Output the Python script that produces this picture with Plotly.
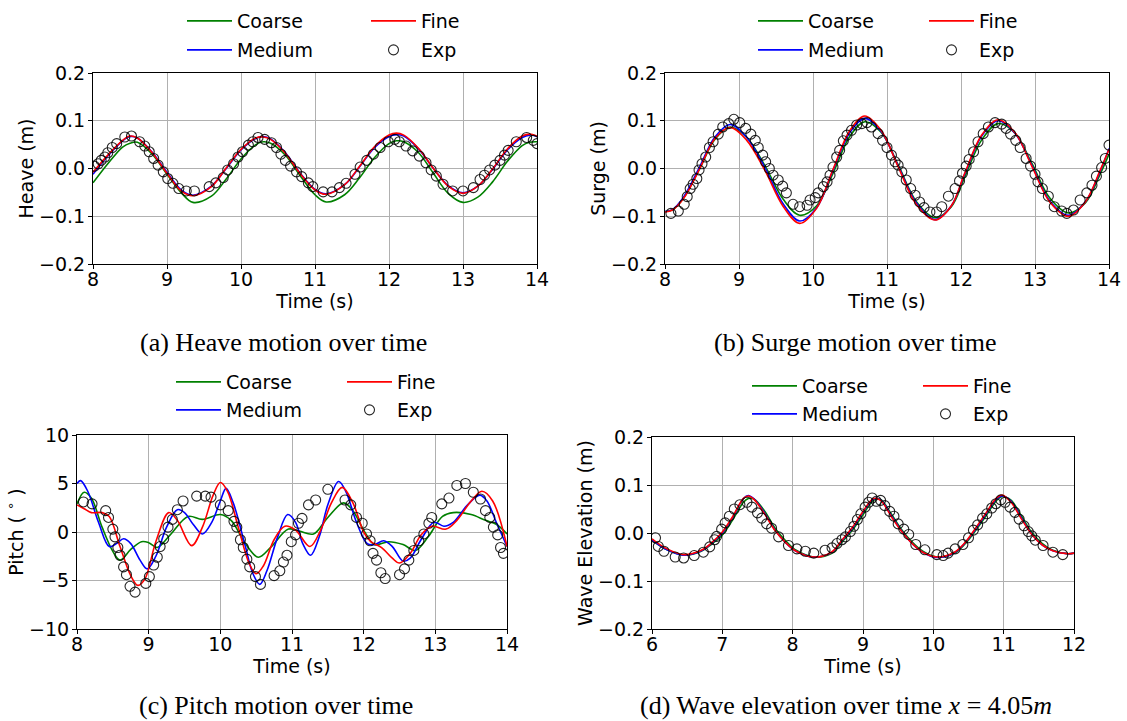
import plotly.graph_objects as go

# ---------------- (a) Heave ----------------
HEAVE_T = [8.0, 8.2, 8.4, 8.5, 8.6, 8.8, 9.0, 9.2, 9.35, 9.6, 9.8, 10.0, 10.2, 10.3, 10.4, 10.6, 10.8, 11.0,
           11.15, 11.4, 11.6, 11.8, 12.0, 12.1, 12.2, 12.4, 12.6, 12.8, 13.0, 13.2, 13.4, 13.6, 13.8, 13.9, 14.0]
HEAVE_COARSE = [-0.030, 0.010, 0.045, 0.053, 0.055, 0.030, -0.012, -0.052, -0.071, -0.058, -0.022, 0.020, 0.050,
                0.056, 0.053, 0.028, -0.015, -0.055, -0.070, -0.055, -0.020, 0.022, 0.052, 0.058, 0.056, 0.033,
                -0.010, -0.052, -0.071, -0.060, -0.028, 0.015, 0.048, 0.055, 0.056]
HEAVE_MEDIUM = [-0.012, 0.026, 0.058, 0.067, 0.064, 0.034, -0.008, -0.046, -0.056, -0.037, 0.000, 0.039, 0.063,
                0.067, 0.062, 0.033, -0.010, -0.044, -0.053, -0.034, 0.003, 0.043, 0.067, 0.071, 0.068, 0.041,
                0.000, -0.036, -0.051, -0.037, -0.002, 0.039, 0.065, 0.070, 0.067]
HEAVE_FINE = [-0.008, 0.028, 0.059, 0.068, 0.064, 0.033, -0.010, -0.048, -0.057, -0.038, 0.001, 0.040, 0.064,
              0.066, 0.061, 0.032, -0.011, -0.045, -0.054, -0.034, 0.004, 0.045, 0.070, 0.074, 0.070, 0.042,
              0.000, -0.037, -0.052, -0.037, -0.001, 0.041, 0.068, 0.072, 0.068]
HEAVE_EXP_T = [8.02, 8.07, 8.11, 8.16, 8.2, 8.26, 8.32, 8.43, 8.52, 8.63, 8.70, 8.76, 8.82, 8.88, 8.95, 9.01, 9.08,
               9.16, 9.26, 9.37, 9.57, 9.66, 9.76, 9.82, 9.9, 9.96, 10.02, 10.1, 10.16, 10.23, 10.32, 10.41, 10.48,
               10.54, 10.6, 10.67, 10.75, 10.82, 10.91, 10.97, 11.11, 11.23, 11.33, 11.42, 11.54, 11.61, 11.70,
               11.79, 11.88, 11.99, 12.08, 12.14, 12.23, 12.32, 12.41, 12.5, 12.57, 12.64, 12.73, 12.86, 13.0,
               13.14, 13.23, 13.29, 13.36, 13.43, 13.5, 13.56, 13.61, 13.72, 13.86, 13.95, 14.0]
HEAVE_EXP = [0.005, 0.010, 0.017, 0.024, 0.033, 0.044, 0.052, 0.066, 0.068, 0.056, 0.047, 0.035, 0.021, 0.007,
             -0.007, -0.021, -0.031, -0.042, -0.047, -0.047, -0.038, -0.030, -0.019, -0.003, 0.010, 0.024, 0.035,
             0.049, 0.056, 0.065, 0.061, 0.054, 0.044, 0.030, 0.017, 0.005, -0.007, -0.017, -0.030, -0.038,
             -0.049, -0.049, -0.040, -0.031, -0.012, 0.003, 0.017, 0.030, 0.044, 0.056, 0.061, 0.056, 0.047,
             0.037, 0.026, 0.012, -0.003, -0.016, -0.033, -0.047, -0.047, -0.040, -0.023, -0.014, -0.003, 0.007,
             0.017, 0.028, 0.038, 0.056, 0.065, 0.059, 0.052]

# ---------------- (b) Surge ----------------
SURGE_T = [8.0, 8.1, 8.25, 8.47, 8.67, 8.88, 9.1, 9.35, 9.6, 9.82, 10.05, 10.27, 10.5, 10.7, 10.92, 11.15, 11.4,
           11.65, 11.87, 12.05, 12.28, 12.5, 12.73, 12.96, 13.2, 13.45, 13.68, 13.88, 14.0]
SURGE_COARSE = [-0.090, -0.087, -0.062, 0.000, 0.060, 0.087, 0.066, 0.006, -0.065, -0.098, -0.078, -0.010, 0.068,
                0.098, 0.076, 0.008, -0.070, -0.103, -0.080, -0.018, 0.060, 0.094, 0.074, 0.010, -0.062, -0.093,
                -0.072, -0.012, 0.030]
SURGE_MEDIUM = [-0.090, -0.086, -0.060, 0.004, 0.065, 0.092, 0.066, 0.002, -0.075, -0.110, -0.082, -0.004, 0.076,
                0.105, 0.078, 0.006, -0.073, -0.107, -0.078, -0.012, 0.068, 0.100, 0.074, 0.006, -0.068, -0.098,
                -0.070, -0.006, 0.042]
SURGE_FINE = [-0.091, -0.087, -0.063, 0.000, 0.062, 0.086, 0.060, -0.004, -0.080, -0.115, -0.083, -0.002, 0.080,
              0.110, 0.080, 0.004, -0.076, -0.108, -0.078, -0.010, 0.070, 0.102, 0.075, 0.004, -0.070, -0.100,
              -0.070, -0.004, 0.040]
SURGE_EXP_T = [8.08, 8.18, 8.26, 8.30, 8.34, 8.38, 8.43, 8.46, 8.5, 8.55, 8.6, 8.65, 8.72, 8.78, 8.86, 8.93, 9.01,
               9.09, 9.16, 9.22, 9.26, 9.32, 9.36, 9.41, 9.46, 9.53, 9.59, 9.64, 9.73, 9.82, 9.92, 9.96, 10.03,
               10.07, 10.14, 10.19, 10.23, 10.27, 10.32, 10.36, 10.41, 10.46, 10.52, 10.59, 10.66, 10.73, 10.79,
               10.88, 10.94, 11.0, 11.06, 11.11, 11.15, 11.2, 11.26, 11.32, 11.38, 11.44, 11.5, 11.58, 11.67,
               11.74, 11.83, 11.92, 11.98, 12.02, 12.07, 12.11, 12.17, 12.23, 12.3, 12.37, 12.46, 12.55, 12.61,
               12.67, 12.74, 12.8, 12.88, 12.94, 13.0, 13.04, 13.1, 13.18, 13.26, 13.36, 13.43, 13.52, 13.61,
               13.7, 13.77, 13.83, 13.9, 13.95, 14.0]
SURGE_EXP = [-0.094, -0.089, -0.075, -0.059, -0.042, -0.033, -0.021, -0.003, 0.010, 0.024, 0.044, 0.056, 0.072,
             0.087, 0.094, 0.103, 0.096, 0.084, 0.072, 0.059, 0.044, 0.028, 0.014, 0.000, -0.014, -0.024, -0.037,
             -0.051, -0.075, -0.080, -0.077, -0.066, -0.061, -0.051, -0.038, -0.028, -0.014, 0.003, 0.024, 0.038,
             0.058, 0.070, 0.080, 0.091, 0.094, 0.096, 0.087, 0.073, 0.059, 0.044, 0.028, 0.014, 0.007, -0.007,
             -0.024, -0.042, -0.056, -0.070, -0.082, -0.091, -0.091, -0.080, -0.058, -0.042, -0.026, -0.010,
             0.005, 0.019, 0.035, 0.056, 0.073, 0.087, 0.096, 0.093, 0.084, 0.072, 0.059, 0.044, 0.021, 0.005,
             -0.012, -0.028, -0.042, -0.058, -0.080, -0.089, -0.094, -0.087, -0.066, -0.051, -0.035, -0.016,
             0.002, 0.021, 0.049]

# ---------------- (c) Pitch ----------------
PITCH_COARSE_T = [8.0, 8.1, 8.2, 8.35, 8.5, 8.6, 8.75, 8.9, 9.0, 9.12, 9.3, 9.55, 9.75, 10.0, 10.15, 10.35, 10.53,
                  10.7, 10.95, 11.1, 11.3, 11.5, 11.72, 11.85, 12.0, 12.15, 12.35, 12.55, 12.72, 12.9, 13.1, 13.25,
                  13.5, 13.7, 13.85, 14.0]
PITCH_COARSE = [2.9, 4.1, 3.5, 0.5, -2.0, -2.9, -1.8, -1.0, -1.1, -1.6, -0.3, 1.6, 1.3, 1.8, 1.2, -1.2, -2.6,
                -1.6, 0.3, 0.1, -0.2, 1.5, 3.0, 2.2, 0.2, -1.3, -1.0, -1.3, -1.9, -0.5, 1.6, 2.0, 1.8, 1.2, 0.8,
                -0.2]
PITCH_MEDIUM_T = [8.0, 8.05, 8.15, 8.3, 8.45, 8.55, 8.65, 8.75, 8.88, 8.98, 9.1, 9.25, 9.4, 9.5, 9.62, 9.75, 9.88,
                  10.0, 10.08, 10.18, 10.35, 10.45, 10.55, 10.65, 10.8, 10.94, 11.05, 11.15, 11.26, 11.38, 11.5,
                  11.65, 11.75, 11.9, 12.05, 12.15, 12.28, 12.4, 12.55, 12.65, 12.8, 12.98, 13.12, 13.25, 13.45,
                  13.62, 13.72, 13.85, 14.0]
PITCH_MEDIUM = [5.0, 5.3, 4.2, 1.0, -1.5, -1.2, -0.7, -1.2, -2.9, -3.8, -2.5, 0.5, 2.3, 2.0, 0.8, -0.2, 1.0, 3.2,
                4.5, 3.0, -1.5, -4.2, -5.4, -4.0, -0.5, 1.8, 1.0, -1.2, -2.4, -0.5, 2.8, 5.2, 4.2, 1.0, -1.2, -1.3,
                -0.9, -1.5, -3.0, -2.7, -0.8, 1.0, 0.6, 1.0, 2.8, 3.8, 3.2, 1.0, -1.5]
PITCH_FINE_T = [8.0, 8.1, 8.2, 8.35, 8.45, 8.6, 8.75, 8.85, 8.95, 9.1, 9.28, 9.4, 9.6, 9.75, 9.9, 10.0, 10.1, 10.25,
                10.4, 10.5, 10.6, 10.75, 10.9, 11.05, 11.25, 11.4, 11.55, 11.7, 11.85, 12.0, 12.1, 12.25, 12.4,
                12.5, 12.65, 12.8, 12.95, 13.15, 13.3, 13.5, 13.65, 13.8, 14.0]
PITCH_FINE = [2.8, 2.4, 2.0, 2.0, 1.6, -1.5, -4.5, -5.5, -4.8, -1.0, 2.0, 1.2, -1.4, 0.5, 3.8, 5.1, 4.2, 0.5, -3.2,
              -4.3, -3.5, -0.8, 0.6, 0.2, -1.5, 0.2, 3.0, 4.6, 3.0, 0.0, -1.0, -1.6, -2.7, -3.2, -2.2, -0.3, 0.6,
              0.3, 1.2, 3.2, 4.2, 3.2, -1.5]
PITCH_EXP_T = [8.09, 8.21, 8.40, 8.44, 8.5, 8.53, 8.57, 8.6, 8.65, 8.69, 8.74, 8.81, 8.96, 9.01, 9.07, 9.12, 9.16,
               9.21, 9.27, 9.33, 9.4, 9.48, 9.67, 9.79, 9.87, 10.0, 10.11, 10.19, 10.23, 10.28, 10.32, 10.37, 10.41,
               10.49, 10.56, 10.75, 10.83, 10.88, 10.93, 10.99, 11.05, 11.09, 11.14, 11.23, 11.33, 11.5, 11.74,
               11.82, 11.9, 11.98, 12.04, 12.09, 12.13, 12.18, 12.24, 12.3, 12.5, 12.57, 12.63, 12.7, 12.77, 12.84,
               12.91, 12.95, 13.09, 13.19, 13.3, 13.42, 13.53, 13.63, 13.7, 13.76, 13.81, 13.87, 13.91, 13.95]
PITCH_EXP = [3.1, 2.9, 2.2, 1.5, 0.3, -0.5, -1.6, -2.4, -3.6, -4.4, -5.6, -6.2, -5.3, -4.6, -3.4, -2.6, -1.5, -0.7,
             0.5, 1.3, 2.3, 3.2, 3.7, 3.7, 3.6, 2.8, 2.2, 1.1, 0.5, -0.8, -1.6, -2.8, -3.6, -4.6, -5.4, -4.5, -4.0,
             -3.1, -2.4, -1.0, -0.3, 0.9, 1.4, 2.8, 3.3, 4.4, 3.3, 2.8, 1.5, 0.9, -0.2, -0.9, -2.2, -2.9, -4.2,
             -4.8, -4.4, -3.8, -2.9, -1.9, -0.9, -0.2, 0.9, 1.5, 2.9, 3.5, 4.8, 5.0, 4.1, 3.4, 2.2, 1.5, 0.5, -0.3,
             -1.6, -2.2]

# ---------------- (d) Wave elevation ----------------
WAVE_T = [6.0, 6.2, 6.45, 6.7, 6.85, 7.0, 7.15, 7.3, 7.37, 7.45, 7.6, 7.75, 7.9, 8.05, 8.3, 8.55, 8.7, 8.85, 9.0,
          9.15, 9.25, 9.4, 9.55, 9.7, 9.85, 10.05, 10.3, 10.45, 10.6, 10.75, 10.9, 10.98, 11.1, 11.25, 11.4, 11.55,
          11.7, 11.9, 12.0]
WAVE_COARSE = [-0.015, -0.034, -0.046, -0.038, -0.023, -0.004, 0.028, 0.064, 0.072, 0.071, 0.046, 0.010, -0.016,
               -0.036, -0.050, -0.043, -0.019, 0.006, 0.038, 0.068, 0.070, 0.040, 0.007, -0.019, -0.038, -0.050,
               -0.042, -0.023, 0.005, 0.036, 0.068, 0.076, 0.069, 0.036, 0.001, -0.022, -0.036, -0.043, -0.042]
WAVE_MEDIUM = [-0.014, -0.034, -0.046, -0.037, -0.021, 0.000, 0.033, 0.072, 0.078, 0.071, 0.042, 0.006, -0.020,
               -0.038, -0.050, -0.041, -0.016, 0.010, 0.043, 0.071, 0.069, 0.037, 0.004, -0.022, -0.040, -0.051,
               -0.041, -0.021, 0.008, 0.040, 0.071, 0.077, 0.067, 0.032, -0.002, -0.025, -0.037, -0.043, -0.042]
WAVE_FINE = [-0.012, -0.032, -0.045, -0.036, -0.020, 0.002, 0.035, 0.072, 0.077, 0.070, 0.040, 0.005, -0.020,
             -0.038, -0.050, -0.040, -0.015, 0.012, 0.045, 0.072, 0.068, 0.035, 0.003, -0.022, -0.040, -0.050,
             -0.040, -0.020, 0.010, 0.042, 0.073, 0.079, 0.065, 0.030, -0.003, -0.025, -0.037, -0.043, -0.042]
WAVE_EXP_T = [6.05, 6.09, 6.17, 6.33, 6.45, 6.6, 6.73, 6.82, 6.89, 6.92, 6.99, 7.04, 7.1, 7.17, 7.25, 7.35, 7.42,
              7.5, 7.56, 7.63, 7.7, 7.8, 7.94, 8.06, 8.18, 8.3, 8.46, 8.56, 8.63, 8.7, 8.75, 8.82, 8.87, 8.92, 8.97,
              9.03, 9.08, 9.13, 9.19, 9.25, 9.31, 9.38, 9.44, 9.5, 9.58, 9.65, 9.75, 9.88, 10.05, 10.14, 10.21,
              10.31, 10.42, 10.5, 10.57, 10.63, 10.7, 10.76, 10.83, 10.89, 10.96, 11.02, 11.09, 11.16, 11.22,
              11.29, 11.35, 11.4, 11.45, 11.56, 11.7, 11.84]
WAVE_EXP = [-0.010, -0.028, -0.038, -0.050, -0.052, -0.047, -0.040, -0.029, -0.014, -0.007, 0.008, 0.021, 0.035,
            0.050, 0.059, 0.064, 0.054, 0.042, 0.031, 0.019, 0.010, -0.008, -0.026, -0.033, -0.038, -0.042,
            -0.036, -0.031, -0.022, -0.014, -0.008, 0.003, 0.014, 0.028, 0.040, 0.054, 0.064, 0.073, 0.066,
            0.068, 0.057, 0.045, 0.035, 0.019, 0.008, -0.003, -0.024, -0.035, -0.045, -0.047, -0.042, -0.033,
            -0.024, -0.010, 0.006, 0.017, 0.031, 0.040, 0.052, 0.061, 0.069, 0.064, 0.054, 0.043, 0.029, 0.015,
            0.003, -0.006, -0.015, -0.026, -0.040, -0.045]

SERIES_NAMES = ["Coarse", "Medium", "Fine", "Exp"]
SERIES_COLORS = {"Coarse": "#008000", "Medium": "#0000ff", "Fine": "#ff0000"}

W, H = 1127, 721
FONT = "DejaVu Sans"
LEG_ITEMW = 45


def px_x(p):
    return p / W


def px_y(p):
    return 1 - p / H


# legend tuple: (pixel x of the first legend line's left end, row-1 centre y, row-2 centre y)
panels = [
    dict(key="", lines=[(HEAVE_T, HEAVE_COARSE), (HEAVE_T, HEAVE_MEDIUM), (HEAVE_T, HEAVE_FINE)],
         exp=(HEAVE_EXP_T, HEAVE_EXP), xr=[8, 14], yr=[-0.2, 0.2], dtick=0.1, fmt=".1f",
         ytitle="Heave (m)", box=(93, 537, 73, 264), leg=(187, 21, 50),
         caption="(a) Heave motion over time", cap=(283.5, 342)),
    dict(key="2", lines=[(SURGE_T, SURGE_COARSE), (SURGE_T, SURGE_MEDIUM), (SURGE_T, SURGE_FINE)],
         exp=(SURGE_EXP_T, SURGE_EXP), xr=[8, 14], yr=[-0.2, 0.2], dtick=0.1, fmt=".1f",
         ytitle="Surge (m)", box=(665, 1109, 73, 264), leg=(758, 21, 50),
         caption="(b) Surge motion over time", cap=(855, 342)),
    dict(key="3", lines=[(PITCH_COARSE_T, PITCH_COARSE), (PITCH_MEDIUM_T, PITCH_MEDIUM), (PITCH_FINE_T, PITCH_FINE)],
         exp=(PITCH_EXP_T, PITCH_EXP), xr=[8, 14], yr=[-10, 10], dtick=5, fmt="d",
         ytitle="Pitch ( <sup>∘</sup> )", box=(77, 507, 435, 629), leg=(176, 382, 410),
         caption="(c) Pitch motion over time", cap=(276, 705)),
    dict(key="4", lines=[(WAVE_T, WAVE_COARSE), (WAVE_T, WAVE_MEDIUM), (WAVE_T, WAVE_FINE)],
         exp=(WAVE_EXP_T, WAVE_EXP), xr=[6, 12], yr=[-0.2, 0.2], dtick=0.1, fmt=".1f",
         ytitle="Wave Elevation (m)", box=(652, 1074, 437, 629), leg=(752, 386, 414),
         caption="(d) Wave elevation over time <i>x</i> = 4.05<i>m</i>", cap=(846, 705)),
]

fig = go.Figure()
layout = dict(width=W, height=H, margin=dict(l=0, r=0, t=0, b=0, autoexpand=False),
              paper_bgcolor="white", plot_bgcolor="white", showlegend=True,
              font=dict(family=FONT, size=19, color="black"), annotations=[])

for i, p in enumerate(panels):
    k = p["key"]
    xa, ya = "x" + k, "y" + k
    leg1 = "legend" if i == 0 else f"legend{2 * i + 1}"
    leg2 = f"legend{2 * i + 2}"
    for (t, v), name in zip(p["lines"], SERIES_NAMES[:3]):
        fig.add_trace(go.Scatter(x=t, y=v, mode="lines", name=name, xaxis=xa, yaxis=ya,
                                 line=dict(color=SERIES_COLORS[name], width=1.6, shape="spline", smoothing=1.0),
                                 legend=leg1 if name in ("Coarse", "Fine") else leg2))
    fig.add_trace(go.Scatter(x=p["exp"][0], y=p["exp"][1], mode="markers", name="Exp", xaxis=xa, yaxis=ya,
                             marker=dict(symbol="circle-open", size=10, color="rgba(0,0,0,0.85)",
                                         line=dict(width=1.1)),
                             legend=leg2))
    x0, x1, y0, y1 = p["box"]
    axis_common = dict(showline=True, linecolor="black", linewidth=1, mirror=True,
                       showgrid=True, gridcolor="#b0b0b0", gridwidth=1, zeroline=False,
                       ticks="outside", ticklen=4, tickcolor="black", tickwidth=1,
                       tickfont=dict(family=FONT, size=19))
    layout["xaxis" + k] = dict(axis_common, domain=[px_x(x0), px_x(x1)], range=p["xr"], dtick=1,
                               anchor=ya, ticklabelstandoff=-6,
                               title=dict(text="Time (s)", standoff=0, font=dict(family=FONT, size=19)))
    layout["yaxis" + k] = dict(axis_common, domain=[px_y(y1), px_y(y0)], range=p["yr"], dtick=p["dtick"],
                               tickformat=p["fmt"], anchor=xa, ticklabelstandoff=-1,
                               title=dict(text=p["ytitle"], standoff=0, font=dict(family=FONT, size=19)))
    ls, r1, r2 = p["leg"]
    lx = ls - 5
    # the primary legend lays entries out ~13px tighter than the numbered ones
    entryw = 124 if i == 0 else 111
    for name, ry in ((leg1, r1), (leg2, r2)):
        layout[name] = dict(orientation="h", x=px_x(lx), y=px_y(ry), xanchor="left", yanchor="middle",
                            entrywidth=entryw, entrywidthmode="pixels", bgcolor="rgba(0,0,0,0)",
                            borderwidth=0, font=dict(family=FONT, size=19), itemwidth=LEG_ITEMW,
                            traceorder="normal")
    cx, cy = p["cap"]
    layout["annotations"].append(dict(text=p["caption"], x=px_x(cx), y=px_y(cy), xref="paper", yref="paper",
                                      xanchor="center", yanchor="middle", showarrow=False,
                                      font=dict(family="Liberation Serif", size=26, color="black")))

fig.update_layout(**layout)
fig.write_html("out.html", config={"displayModeBar": False},
               post_script="document.body.style.margin='0px';")
